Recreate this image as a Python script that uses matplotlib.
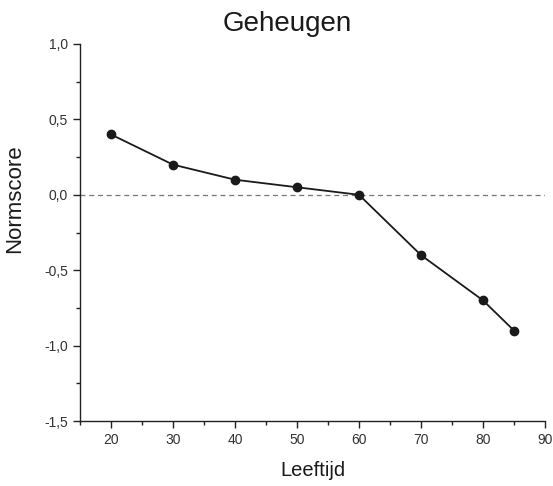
import numpy as np
import matplotlib.pyplot as plt
from matplotlib.ticker import MultipleLocator, FuncFormatter

plt.rcParams['font.family'] = ['Liberation Sans', 'DejaVu Sans']

# data
leeftijd = [20, 30, 40, 50, 60, 70, 80, 85]
normscore = [0.4, 0.2, 0.1, 0.05, 0.0, -0.4, -0.7, -0.9]

fig = plt.figure(figsize=(5.53, 4.86), dpi=100)
ax = fig.add_axes([0.1447, 0.1337, 0.8408, 0.7758])

ax.axhline(0, color='#777777', lw=0.9, ls=(0, (4, 3)), zorder=1)
ax.plot(leeftijd, normscore, color='#1a1a1a', lw=1.3, marker='o', ms=6, zorder=3)

ax.set_xlim(15, 90)
ax.set_ylim(-1.5, 1.0)
ax.xaxis.set_major_locator(MultipleLocator(10))
ax.xaxis.set_minor_locator(MultipleLocator(5))
ax.yaxis.set_major_locator(MultipleLocator(0.5))
ax.yaxis.set_minor_locator(MultipleLocator(0.25))
ax.yaxis.set_major_formatter(FuncFormatter(lambda v, p: ('%.1f' % v).replace('.', ',')))
ax.xaxis.set_major_formatter(FuncFormatter(lambda v, p: '%d' % v if v >= 20 else ''))

for s in ['top', 'right']:
    ax.spines[s].set_visible(False)
for s in ['left', 'bottom']:
    ax.spines[s].set_linewidth(1.0)
    ax.spines[s].set_color('#222222')

ax.tick_params(which='major', direction='out', length=5, width=1, labelsize=10, colors='#222222')
ax.tick_params(which='minor', direction='out', length=3, width=1, colors='#222222')
ax.tick_params(axis='both', labelcolor='#333333')

ax.set_title('Geheugen', fontsize=20, color='#1a1a1a', pad=9, x=0.445)
ax.set_xlabel('Leeftijd', fontsize=14.5, color='#1a1a1a', labelpad=10)
ax.set_ylabel('Normscore', fontsize=16, color='#1a1a1a')
ax.yaxis.set_label_coords(-0.118, 0.59)

fig.savefig('out.png', dpi=100)
